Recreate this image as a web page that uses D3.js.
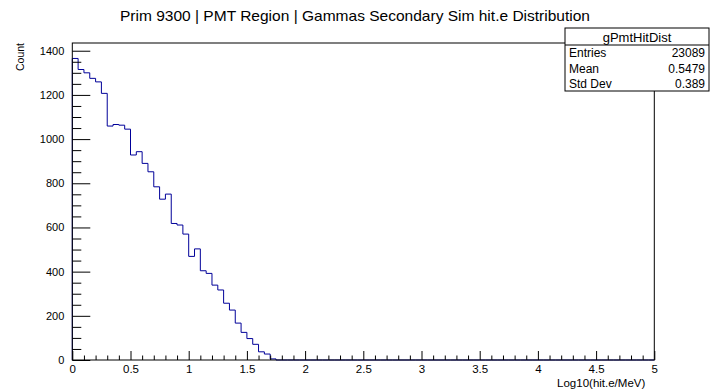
<!DOCTYPE html>
<html>
<head>
<meta charset="utf-8">
<script src="https://cdn.jsdelivr.net/npm/d3@7"></script>
<style>
  body { margin: 0; background: #fff; }
  svg { display: block; font-family: "Liberation Sans", Arial, Helvetica, sans-serif; }
</style>
</head>
<body>
<div id="chart"></div>
<script>
const width = 710
const height = 389

const titleText = 'Prim 9300 | PMT Region | Gammas Secondary Sim hit.e Distribution'
const xTitle = 'Log10(hit.e/MeV)'
const yTitle = 'Count'

// 100 bins from 0 to 5 (width 0.05)
const binLow = 0
const binHigh = 5
const binCounts = [
  1365, 1315, 1300, 1275, 1259, 1207, 1059, 1066, 1063, 1045,
  928, 943, 890, 852, 784, 728, 751, 618, 611, 570,
  469, 503, 404, 392, 339, 317, 257, 226, 167, 125,
  97, 71, 37, 27, 5, 0, 0, 0, 0, 0,
  0, 0, 0, 0, 0, 0, 0, 0, 0, 0,
  0, 0, 0, 0, 0, 0, 0, 0, 0, 0,
  0, 0, 0, 0, 0, 0, 0, 0, 0, 0,
  0, 0, 0, 0, 0, 0, 0, 0, 0, 0,
  0, 0, 0, 0, 0, 0, 0, 0, 0, 0,
  0, 0, 0, 0, 0, 0, 0, 0, 0, 0
]

const xMajorTicks = [0, 0.5, 1, 1.5, 2, 2.5, 3, 3.5, 4, 4.5, 5]
const yMajorTicks = [0, 200, 400, 600, 800, 1000, 1200, 1400]
const yMax = 1435

const statsName = 'gPmtHitDist'
const statsLabels = ['Entries', 'Mean', 'Std Dev']
const statsValues = ['23089', '0.5479', '0.389']

const frame = { left: 72.3, right: 654.3, top: 43, bottom: 360 }

const svg = d3.select('#chart').append('svg')
  .attr('width', width)
  .attr('height', height)

const x = d3.scaleLinear().domain([binLow, binHigh]).range([frame.left, frame.right])
const y = d3.scaleLinear().domain([0, yMax]).range([frame.bottom, frame.top])

// title, centred on the canvas
svg.append('text')
  .attr('x', width / 2)
  .attr('y', 21)
  .attr('text-anchor', 'middle')
  .attr('font-size', 14.5)
  .attr('textLength', 470)
  .attr('lengthAdjust', 'spacingAndGlyphs')
  .attr('fill', '#000')
  .text(titleText)

// histogram outline
const step = (binHigh - binLow) / binCounts.length
const points = binCounts.map((c, i) => [binLow + i * step, c])
points.push([binHigh, binCounts[binCounts.length - 1]])

const line = d3.line()
  .x(d => x(d[0]))
  .y(d => y(d[1]))
  .curve(d3.curveStepAfter)

svg.append('path')
  .datum([[binLow, 0], ...points])
  .attr('fill', 'none')
  .attr('stroke', '#000099')
  .attr('stroke-width', 1)
  .attr('d', line)

// minor ticks
const xMinor = d3.range(0, 51).map(i => i / 10).filter(v => !xMajorTicks.includes(v))
const yMinor = d3.range(0, 29).map(i => i * 50).filter(v => v <= yMax && !yMajorTicks.includes(v))

const xAxisMinor = d3.axisBottom(x).tickValues(xMinor).tickSize(-4.5).tickFormat('')
const xAxisMajor = d3.axisBottom(x).tickValues(xMajorTicks).tickSize(-9).tickPadding(5)
  .tickFormat(d3.format(''))
const yAxisMinor = d3.axisLeft(y).tickValues(yMinor).tickSize(-9).tickFormat('')
const yAxisMajor = d3.axisLeft(y).tickValues(yMajorTicks).tickSize(-18).tickPadding(8)
  .tickFormat(d3.format('d'))

const styleAxis = (g, size) => {
  g.select('.domain').remove()
  g.selectAll('line').attr('stroke', '#000').attr('stroke-width', 1)
  g.selectAll('text').attr('font-size', size).attr('fill', '#000')
    .attr('font-family', '"Liberation Sans", Arial, sans-serif')
}

svg.append('g').attr('transform', `translate(0,${frame.bottom})`).call(xAxisMinor).call(g => styleAxis(g, 11.5))
svg.append('g').attr('transform', `translate(0,${frame.bottom})`).call(xAxisMajor).call(g => styleAxis(g, 11.5))
svg.append('g').attr('transform', `translate(${frame.left},0)`).call(yAxisMinor).call(g => styleAxis(g, 11))
svg.append('g').attr('transform', `translate(${frame.left},0)`).call(yAxisMajor).call(g => styleAxis(g, 11))

// frame
svg.append('rect')
  .attr('x', frame.left)
  .attr('y', frame.top)
  .attr('width', frame.right - frame.left)
  .attr('height', frame.bottom - frame.top)
  .attr('fill', 'none')
  .attr('stroke', '#000')
  .attr('stroke-width', 1)

// axis titles
svg.append('text')
  .attr('x', frame.right - 9)
  .attr('y', 386.5)
  .attr('text-anchor', 'end')
  .attr('font-size', 11.5)
  .text(xTitle)

svg.append('text')
  .attr('transform', `translate(24,${frame.top}) rotate(-90)`)
  .attr('text-anchor', 'end')
  .attr('font-size', 10.5)
  .text(yTitle)

// stats box
const box = { x: 565, y: 28, w: 144, h: 63, header: 17 }
const stats = svg.append('g')
stats.append('rect')
  .attr('x', box.x).attr('y', box.y)
  .attr('width', box.w).attr('height', box.h)
  .attr('fill', '#fff').attr('stroke', '#000').attr('stroke-width', 1)
stats.append('line')
  .attr('x1', box.x).attr('x2', box.x + box.w)
  .attr('y1', box.y + box.header).attr('y2', box.y + box.header)
  .attr('stroke', '#000')
stats.append('text')
  .attr('x', box.x + box.w / 2)
  .attr('y', box.y + 13.5)
  .attr('text-anchor', 'middle')
  .attr('font-size', 13)
  .text(statsName)

const rowY = d3.scaleBand().domain(statsLabels).range([box.y + box.header, box.y + box.h])
stats.selectAll('text.lbl').data(statsLabels).enter().append('text')
  .attr('class', 'lbl')
  .attr('x', box.x + 4)
  .attr('y', d => rowY(d) + rowY.bandwidth() / 2 + 4.5)
  .attr('font-size', 12)
  .text(d => d)
stats.selectAll('text.val').data(statsValues).enter().append('text')
  .attr('class', 'val')
  .attr('x', box.x + box.w - 4)
  .attr('y', (d, i) => rowY(statsLabels[i]) + rowY.bandwidth() / 2 + 4.5)
  .attr('text-anchor', 'end')
  .attr('font-size', 12)
  .text(d => d)
</script>
</body>
</html>
